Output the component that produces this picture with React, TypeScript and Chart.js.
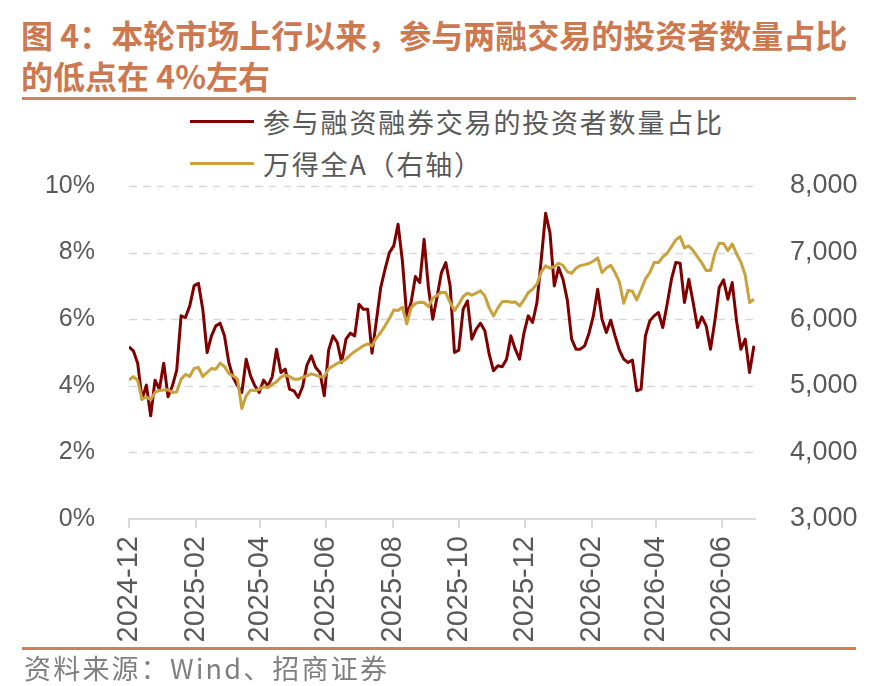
import React, { useEffect, useRef } from 'react';
import { Chart, registerables } from 'chart.js';

Chart.register(...registerables);

// sample dates (every 4 days)
const dates: string[] = [
  '2024-12-01', '2024-12-05', '2024-12-09', '2024-12-13', '2024-12-17', '2024-12-21', '2024-12-25', '2024-12-29',
  '2025-01-02', '2025-01-06', '2025-01-10', '2025-01-14', '2025-01-18', '2025-01-22', '2025-01-26', '2025-01-30',
  '2025-02-03', '2025-02-07', '2025-02-11', '2025-02-15', '2025-02-19', '2025-02-23', '2025-02-27',
  '2025-03-03', '2025-03-07', '2025-03-11', '2025-03-15', '2025-03-19', '2025-03-23', '2025-03-27', '2025-03-31',
  '2025-04-04', '2025-04-08', '2025-04-12', '2025-04-16', '2025-04-20', '2025-04-24', '2025-04-28',
  '2025-05-02', '2025-05-06', '2025-05-10', '2025-05-14', '2025-05-18', '2025-05-22', '2025-05-26', '2025-05-30',
  '2025-06-03', '2025-06-07', '2025-06-11', '2025-06-15', '2025-06-19', '2025-06-23', '2025-06-27',
  '2025-07-01', '2025-07-05', '2025-07-09', '2025-07-13', '2025-07-17', '2025-07-21', '2025-07-25', '2025-07-29',
  '2025-08-02', '2025-08-06', '2025-08-10', '2025-08-14', '2025-08-18', '2025-08-22', '2025-08-26', '2025-08-30',
  '2025-09-03', '2025-09-07', '2025-09-11', '2025-09-15', '2025-09-19', '2025-09-23', '2025-09-27',
  '2025-10-01', '2025-10-05', '2025-10-09', '2025-10-13', '2025-10-17', '2025-10-21', '2025-10-25', '2025-10-29',
  '2025-11-02', '2025-11-06', '2025-11-10', '2025-11-14', '2025-11-18', '2025-11-22', '2025-11-26', '2025-11-30',
  '2025-12-04', '2025-12-08', '2025-12-12', '2025-12-16', '2025-12-20', '2025-12-24', '2025-12-28',
  '2026-01-01', '2026-01-05', '2026-01-09', '2026-01-13', '2026-01-17', '2026-01-21', '2026-01-25', '2026-01-29',
  '2026-02-02', '2026-02-06', '2026-02-10', '2026-02-14', '2026-02-18', '2026-02-22', '2026-02-26',
  '2026-03-02', '2026-03-06', '2026-03-10', '2026-03-14', '2026-03-18', '2026-03-22', '2026-03-26', '2026-03-30',
  '2026-04-03', '2026-04-07', '2026-04-11', '2026-04-15', '2026-04-19', '2026-04-23', '2026-04-27',
  '2026-05-01', '2026-05-05', '2026-05-09', '2026-05-13', '2026-05-17', '2026-05-21', '2026-05-25', '2026-05-29',
  '2026-06-02', '2026-06-06', '2026-06-10', '2026-06-14', '2026-06-18', '2026-06-22', '2026-06-26', '2026-06-30',
];

// 参与融资融券交易的投资者数量占比 (%)
const marginShare: number[] = [
  5.17, 5.05, 4.68, 3.6, 4.02, 3.1, 4.17, 3.9, 4.68, 3.67,
  4.0, 4.47, 6.1, 6.05, 6.4, 7.0, 7.08, 6.3, 5.0, 5.5,
  5.8, 5.88, 5.5, 4.7, 4.25, 4.0, 3.8, 4.8, 4.3, 4.0,
  3.8, 4.17, 4.0, 4.27, 5.1, 4.4, 4.5, 3.9, 3.85, 3.65,
  3.97, 4.62, 4.9, 4.55, 4.4, 3.7, 5.07, 5.5, 5.3, 4.7,
  5.4, 5.58, 5.5, 6.45, 6.3, 6.3, 4.98, 5.95, 6.95, 7.5,
  8.0, 8.2, 8.85, 7.75, 6.1, 6.5, 7.28, 7.1, 8.4, 6.95,
  6.0, 6.68, 7.4, 7.7, 7.0, 5.0, 5.07, 6.3, 6.55, 5.4,
  5.7, 5.88, 5.65, 4.95, 4.45, 4.6, 4.57, 4.8, 5.5, 5.1,
  4.8, 5.58, 6.1, 5.9, 6.5, 7.8, 9.18, 8.6, 7.0, 7.55,
  7.2, 6.58, 5.4, 5.1, 5.1, 5.2, 5.58, 6.1, 6.9, 6.0,
  5.6, 5.97, 5.5, 5.07, 4.8, 4.7, 4.77, 3.85, 3.9, 5.5,
  5.95, 6.1, 6.2, 5.75, 6.45, 7.2, 7.7, 7.68, 6.5, 7.2,
  6.5, 5.75, 6.07, 5.8, 5.1, 5.95, 6.95, 7.18, 6.6, 7.1,
  5.95, 5.1, 5.4, 4.4, 5.2,
];

// 万得全A (right axis)
const windA: number[] = [
  5087, 5137, 5080, 4800, 4830, 4790, 4900, 4930, 4937, 4940,
  4900, 4912, 5100, 5170, 5140, 5262, 5275, 5140, 5200, 5260,
  5250, 5340, 5290, 5185, 5150, 5100, 4660, 4850, 4935, 4930,
  4945, 4985, 4970, 5020, 5060, 5130, 5160, 5140, 5100, 5100,
  5125, 5150, 5180, 5160, 5137, 5140, 5255, 5295, 5340, 5360,
  5400, 5465, 5515, 5555, 5600, 5630, 5600, 5720, 5800, 5900,
  6010, 6137, 6130, 6180, 5930, 6170, 6237, 6255, 6250, 6190,
  6315, 6360, 6405, 6400, 6250, 6130, 6225, 6340, 6390, 6360,
  6390, 6425, 6350, 6170, 6050, 6170, 6262, 6270, 6255, 6260,
  6200, 6290, 6400, 6450, 6530, 6710, 6800, 6765, 6790, 6840,
  6810, 6712, 6690, 6765, 6805, 6820, 6837, 6875, 6920, 6700,
  6770, 6810, 6700, 6560, 6240, 6430, 6420, 6290, 6440, 6605,
  6700, 6850, 6850, 6937, 6990, 7090, 7190, 7240, 7070, 7100,
  7030, 6935, 6845, 6730, 6730, 6990, 7140, 7137, 7030, 7130,
  6980, 6860, 6660, 6250, 6300,
];

const tickLabels: string[] = [
  '2024-12', '2025-02', '2025-04', '2025-06', '2025-08',
  '2025-10', '2025-12', '2026-02', '2026-04', '2026-06',
];

const axisStart = '2024-12-01';
const axisEnd = '2026-07-01';

const RED = '#800000';
const GOLD = '#C9A13D';
const ACCENT = '#D0805C';
const GRID = '#D9D9D9';
const TICK_FONT = '"Liberation Sans", Arial, sans-serif';
const CJK_FONT = '"Noto Sans CJK SC", sans-serif';

function dayOffset(d: string): number {
  const [y, m, day] = d.split('-').map(Number);
  const [y0, m0, d0] = axisStart.split('-').map(Number);
  return (Date.UTC(y, m - 1, day) - Date.UTC(y0, m0 - 1, d0)) / 864e5;
}

// dashed horizontal grid lines on the left axis ticks
const dashedGrid = {
  id: 'dashedGrid',
  beforeDatasetsDraw(chart: any) {
    const { ctx, chartArea, scales } = chart;
    const yScale = scales.y;
    ctx.save();
    ctx.strokeStyle = GRID;
    ctx.lineWidth = 1.5;
    ctx.setLineDash([8, 6]);
    yScale.ticks.forEach((t: any) => {
      if (t.value === 0) return;
      const py = Math.round(yScale.getPixelForValue(t.value)) + 0.5;
      ctx.beginPath();
      ctx.moveTo(chartArea.left, py);
      ctx.lineTo(chartArea.right, py);
      ctx.stroke();
    });
    ctx.restore();
  },
};

const MarginChart: React.FC = () => {
  const chartRef = useRef<HTMLCanvasElement | null>(null);

  useEffect(() => {
    if (!chartRef.current) return;
    const ctx = chartRef.current.getContext('2d');
    if (!ctx) return;

    const myChart = new Chart(ctx, {
      type: 'line',
      data: {
        datasets: [
          {
            label: '参与融资融券交易的投资者数量占比',
            data: dates.map((d, i) => ({ x: dayOffset(d), y: marginShare[i] })),
            borderColor: RED,
            borderWidth: 3,
            pointRadius: 0,
            yAxisID: 'y',
            order: 1,
            borderJoinStyle: 'round',
          },
          {
            label: '万得全A（右轴）',
            data: dates.map((d, i) => ({ x: dayOffset(d), y: windA[i] })),
            borderColor: GOLD,
            borderWidth: 3,
            pointRadius: 0,
            yAxisID: 'y1',
            order: 0,
            borderJoinStyle: 'round',
          },
        ],
      },
      options: {
        responsive: false,
        animation: false,
        layout: { padding: { top: 86, left: 0, right: 0, bottom: 0 } },
        plugins: {
          legend: { display: false },
          tooltip: { enabled: false },
        },
        scales: {
          x: {
            type: 'linear',
            min: dayOffset(axisStart),
            max: dayOffset(axisEnd),
            afterBuildTicks: (scale: any) => {
              scale.ticks = tickLabels.map(t => ({ value: dayOffset(t + '-01') }));
            },
            afterFit: (scale: any) => {
              scale.height = 131;
            },
            ticks: {
              autoSkip: false,
              minRotation: 90,
              maxRotation: 90,
              padding: 8,
              color: '#595959',
              font: { family: TICK_FONT, size: 29 },
              callback: (_v: any, i: number) => tickLabels[i],
            },
            grid: {
              drawOnChartArea: false,
              drawTicks: true,
              tickLength: 9,
              tickColor: GRID,
              lineWidth: 2,
            },
            border: { display: true, color: GRID, width: 2 },
          },
          y: {
            position: 'left',
            min: 0,
            max: 10,
            afterFit: (scale: any) => {
              scale.width = 129;
            },
            ticks: {
              stepSize: 2,
              padding: 26,
              color: '#595959',
              font: { family: TICK_FONT, size: 25 },
              callback: (v: any) => v + '%',
            },
            grid: { display: false },
            border: { display: false },
          },
          y1: {
            position: 'right',
            min: 3000,
            max: 8000,
            afterFit: (scale: any) => {
              scale.width = 139;
            },
            ticks: {
              stepSize: 1000,
              padding: 27,
              color: '#595959',
              font: { family: TICK_FONT, size: 27 },
              callback: (v: any) => Number(v).toLocaleString('en-US'),
            },
            grid: { display: false },
            border: { display: false },
          },
        },
      },
      plugins: [dashedGrid],
    });

    return () => {
      myChart.destroy();
    };
  }, []);

  return <canvas ref={chartRef} width={894} height={550} style={{ position: 'absolute', left: 0, top: 100 }} />;
};

const LegendRow: React.FC<{ color: string; text: string }> = ({ color, text }) => (
  <div style={{ display: 'flex', alignItems: 'center', height: 42 }}>
    <span style={{ display: 'inline-block', width: 64, height: 3, background: color, marginRight: 9 }} />
    <span style={{ fontFamily: CJK_FONT, fontSize: 27, letterSpacing: 1.8, color: '#595959', whiteSpace: 'nowrap' }}>{text}</span>
  </div>
);

export default function App() {
  return (
    <div style={{ position: 'absolute', left: 0, top: 0, width: 894, height: 686, background: '#fff', overflow: 'hidden' }}>
      <div style={{ position: 'absolute', left: 21, top: 14, color: '#CC7850', fontFamily: CJK_FONT, fontWeight: 700, fontSize: 32, lineHeight: '41px', whiteSpace: 'nowrap' }}>
        <div>图 4：本轮市场上行以来，参与两融交易的投资者数量占比</div>
        <div>的低点在 4%左右</div>
      </div>
      <div style={{ position: 'absolute', left: 22, top: 97, width: 834, height: 3, background: ACCENT }} />
      <div style={{ position: 'absolute', left: 190, top: 100 }}>
        <LegendRow color={RED} text="参与融资融券交易的投资者数量占比" />
        <LegendRow color={GOLD} text="万得全A（右轴）" />
      </div>
      <MarginChart />
      <div style={{ position: 'absolute', left: 22, top: 647, width: 834, height: 3, background: ACCENT }} />
      <div style={{ position: 'absolute', left: 24, top: 652, fontFamily: CJK_FONT, fontSize: 27, letterSpacing: 2.2, lineHeight: '32px', color: '#7F7F7F', whiteSpace: 'nowrap' }}>
        资料来源：Wind、招商证券
      </div>
    </div>
  );
}
